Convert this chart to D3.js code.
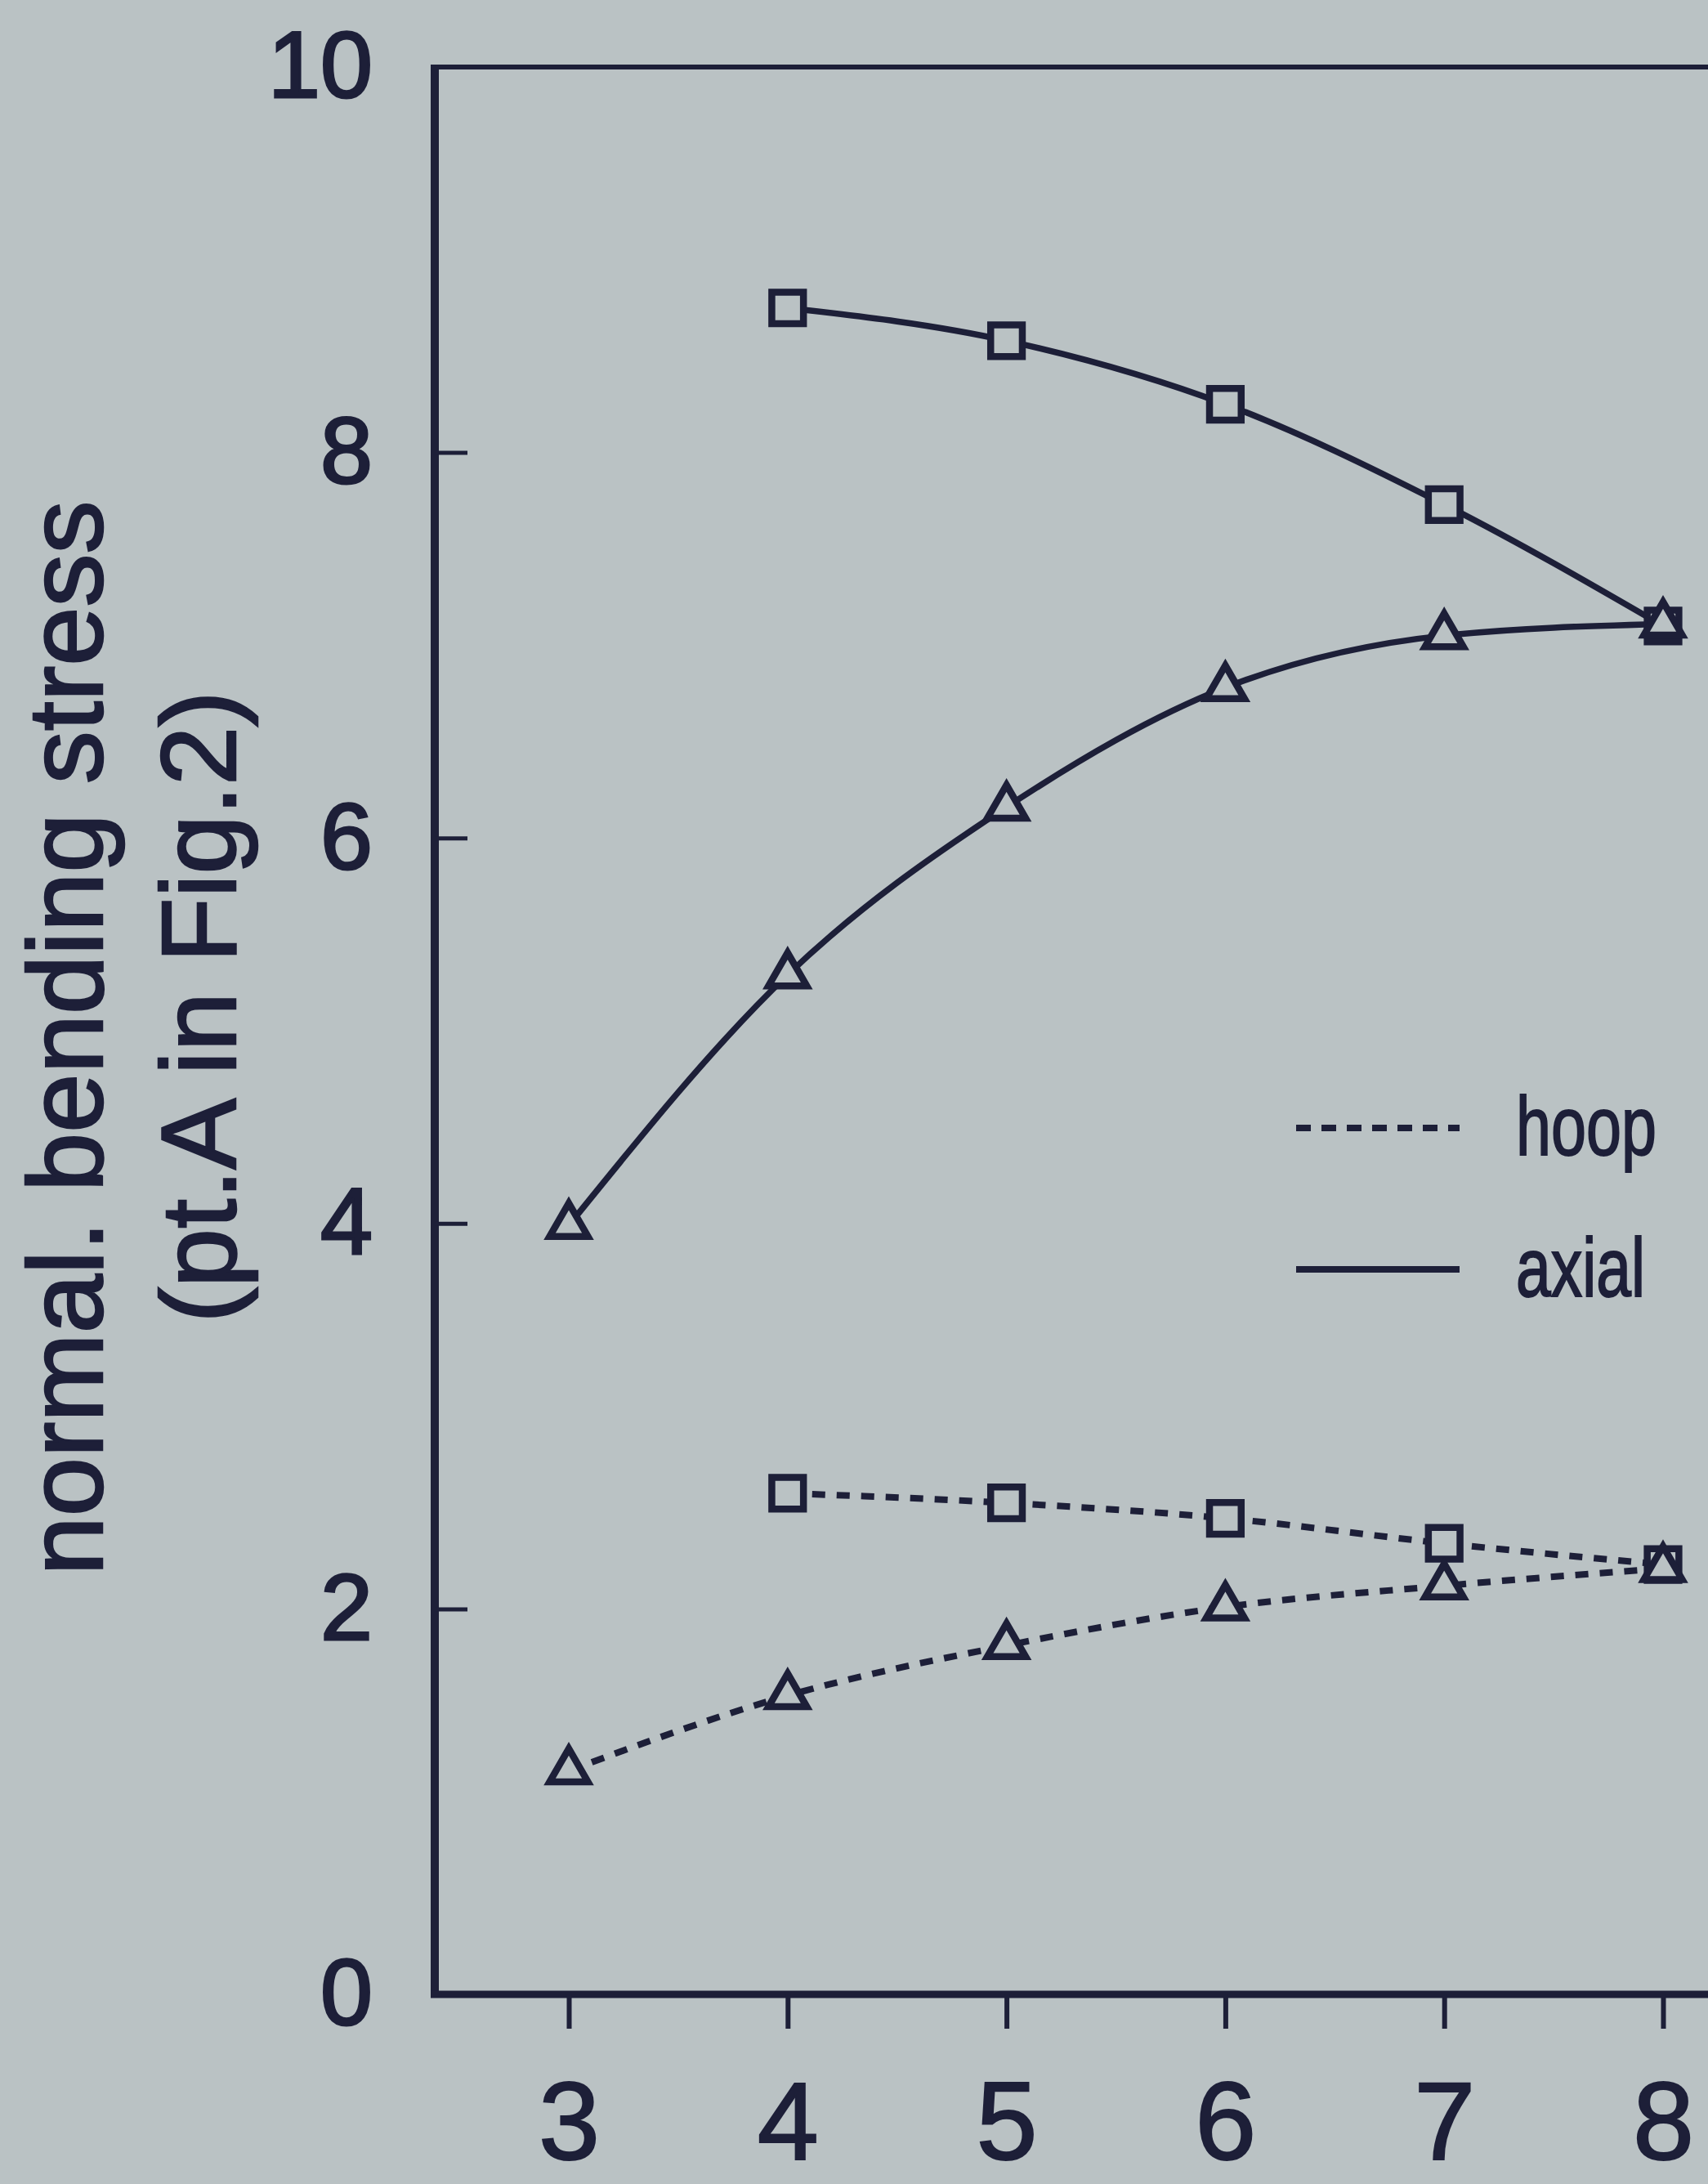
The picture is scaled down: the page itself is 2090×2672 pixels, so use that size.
<!DOCTYPE html>
<html>
<head>
    <meta charset="utf-8">
    <title>normal. bending stress</title>
    <script src="https://d3js.org/d3.v7.min.js"></script>
    <style>
        body { margin: 0; background: #bac2c4; }
    </style>
</head>

<body>
<div id="chart"></div>
<script type="text/javascript">
    let w = 2090;
    let h = 2672;

    // values
    let xTicks = [3, 4, 5, 6, 7, 8];
    let yTicks = [0, 2, 4, 6, 8, 10];

    let triangleX = [3, 4, 5, 6, 7, 8];
    let squareX = [4, 5, 6, 7, 8];

    let axialSquare = [8.75, 8.58, 8.25, 7.73, 7.10];
    let axialTriangle = [3.99, 5.29, 6.16, 6.78, 7.05, 7.11];
    let hoopSquare = [2.60, 2.55, 2.47, 2.34, 2.23];
    let hoopTriangle = [1.16, 1.55, 1.81, 2.01, 2.12, 2.21];

    let legendLabels = ["hoop", "axial"];

    let ink = "#1d1f38";
    let paper = "#bac2c4";

    let xScale = d3.scaleLinear()
                    .domain([3, 8])
                    .range([696, 2035]);

    let yScale = d3.scaleLinear()
                    .domain([0, 10])
                    .range([2440, 82]);

    let svg = d3.select("#chart")
                .append("svg")
                .attr("width", w)
                .attr("height", h)
                .style("font-family", "'Liberation Sans', Arial, sans-serif");

    svg.append("rect")
        .attr("width", w)
        .attr("height", h)
        .attr("fill", paper);

    // frame: left, bottom, top (right side runs off the picture)
    let left = 532;
    svg.append("line")
        .attr("x1", left).attr("x2", left)
        .attr("y1", yScale(10)).attr("y2", yScale(0) + 4)
        .attr("stroke", ink).attr("stroke-width", 10);
    svg.append("line")
        .attr("x1", left - 5).attr("x2", w + 10)
        .attr("y1", yScale(0)).attr("y2", yScale(0))
        .attr("stroke", ink).attr("stroke-width", 9);
    svg.append("line")
        .attr("x1", left - 5).attr("x2", w + 10)
        .attr("y1", yScale(10)).attr("y2", yScale(10))
        .attr("stroke", ink).attr("stroke-width", 6);

    // y axis, ticks pointing inward
    let yAxis = d3.axisLeft(yScale)
                    .tickValues(yTicks)
                    .tickSize(-40)
                    .tickPadding(76)
                    .tickFormat(d3.format("d"));

    let gy = svg.append("g")
        .attr("transform", "translate(" + left + ",0)")
        .call(yAxis);
    gy.select(".domain").remove();
    gy.selectAll(".tick line")
        .attr("stroke", ink)
        .attr("stroke-width", 5)
        .attr("display", function(d) { return (d === 0 || d === 10) ? "none" : null; });
    gy.selectAll(".tick text")
        .attr("fill", ink)
        .attr("stroke", ink)
        .attr("stroke-width", 3)
        .attr("font-size", 115)
        .attr("font-family", "'Liberation Sans', Arial, sans-serif");

    // x axis, ticks pointing down
    let xAxis = d3.axisBottom(xScale)
                    .tickValues(xTicks)
                    .tickSize(42)
                    .tickPadding(64)
                    .tickFormat(d3.format("d"));

    let gx = svg.append("g")
        .attr("transform", "translate(0," + yScale(0) + ")")
        .call(xAxis);
    gx.select(".domain").remove();
    gx.selectAll(".tick line")
        .attr("stroke", ink)
        .attr("stroke-width", 6);
    gx.selectAll(".tick text")
        .attr("fill", ink)
        .attr("stroke", ink)
        .attr("stroke-width", 2)
        .attr("font-size", 135)
        .attr("font-family", "'Liberation Sans', Arial, sans-serif");

    // y axis title, two lines
    let yTitle = svg.append("g")
        .attr("transform", "rotate(-90)")
        .attr("fill", ink)
        .attr("stroke", ink)
        .attr("stroke-width", 2.5)
        .attr("text-anchor", "middle")
        .attr("font-size", 130);
    yTitle.append("text")
        .attr("x", -1270)
        .attr("y", 125)
        .text("normal. bending stress");
    yTitle.append("text")
        .attr("x", -1232)
        .attr("y", 288)
        .text("(pt.A in Fig.2)");

    // lines
    let line = d3.line()
                .x(function(d) { return xScale(d[0]); })
                .y(function(d) { return yScale(d[1]); })
                .curve(d3.curveMonotoneX);

    let series = [
        { xs: squareX, ys: axialSquare, dash: null, mark: "square" },
        { xs: triangleX, ys: axialTriangle, dash: null, mark: "triangle" },
        { xs: squareX, ys: hoopSquare, dash: "16,14", mark: "square" },
        { xs: triangleX, ys: hoopTriangle, dash: "16,14", mark: "triangle" }
    ];

    series.forEach(function(s) {
        let pts = s.xs.map(function(x, i) { return [x, s.ys[i]]; });
        svg.append("path")
            .datum(pts)
            .attr("d", line)
            .attr("fill", "none")
            .attr("stroke", ink)
            .attr("stroke-width", s.dash ? 8 : 7.5)
            .attr("stroke-dasharray", s.dash);
    });

    // markers on top
    let squareSym = d3.symbol().type(d3.symbolSquare).size(1500);
    let triSym = d3.symbol().type(d3.symbolTriangle).size(950);

    series.forEach(function(s) {
        let pts = s.xs.map(function(x, i) { return [x, s.ys[i]]; });
        svg.append("g").selectAll("path")
            .data(pts)
            .enter()
            .append("path")
            .attr("d", s.mark === "square" ? squareSym : triSym)
            .attr("transform", function(d) {
                return "translate(" + xScale(d[0]) + "," + yScale(d[1]) + ")";
            })
            .attr("fill", paper)
            .attr("stroke", ink)
            .attr("stroke-width", 8.5);
    });

    // legend
    let legend = svg.append("g");
    let legendY = [1380, 1553];
    let legendWidth = [172, 158];
    legend.selectAll("line")
        .data(legendLabels)
        .enter()
        .append("line")
        .attr("x1", 1586)
        .attr("x2", 1786)
        .attr("y1", function(d, i) { return legendY[i]; })
        .attr("y2", function(d, i) { return legendY[i]; })
        .attr("stroke", ink)
        .attr("stroke-width", 8)
        .attr("stroke-dasharray", function(d, i) { return i === 0 ? "18,13" : null; });
    legend.selectAll("text")
        .data(legendLabels)
        .enter()
        .append("text")
        .attr("x", 1855)
        .attr("y", function(d, i) { return legendY[i] + 33; })
        .attr("fill", ink)
        .attr("stroke", ink)
        .attr("stroke-width", 2)
        .attr("font-size", 102)
        .attr("textLength", function(d, i) { return legendWidth[i]; })
        .attr("lengthAdjust", "spacingAndGlyphs")
        .text(function(d) { return d; });
</script>
</body>
</html>
